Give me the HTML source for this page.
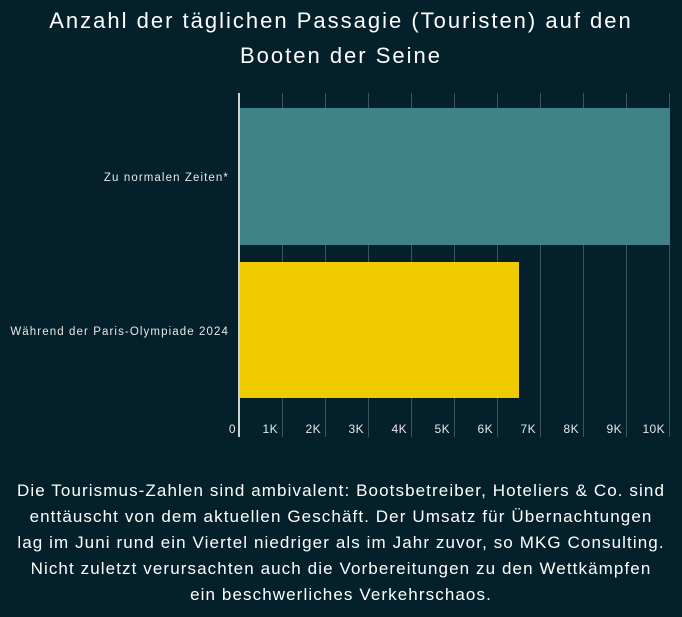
<!DOCTYPE html>
<html><head><meta charset="utf-8"><style>
body{margin:0;width:682px;height:617px;background:#03202b;overflow:hidden;font-family:"Liberation Sans",sans-serif;color:#fff}
.t{position:absolute;left:0;width:682px;text-align:center;font-size:22px;letter-spacing:2px;line-height:35px;top:3px;white-space:nowrap}
.p{position:absolute;left:0;width:682px;text-align:center;font-size:17px;letter-spacing:1.1px;line-height:26px;top:478px;white-space:nowrap}
</style></head><body>
<div class="t">Anzahl der täglichen Passagie (Touristen) auf den<br>Booten der Seine</div>
<svg width="682" height="617" style="position:absolute;left:0;top:0">
<g stroke="#3a5560" stroke-width="1">
<line x1="282.5" y1="93" x2="282.5" y2="437"/><line x1="325.5" y1="93" x2="325.5" y2="437"/>
<line x1="368.5" y1="93" x2="368.5" y2="437"/><line x1="411.5" y1="93" x2="411.5" y2="437"/>
<line x1="454.5" y1="93" x2="454.5" y2="437"/><line x1="497.5" y1="93" x2="497.5" y2="437"/>
<line x1="540.5" y1="93" x2="540.5" y2="437"/><line x1="583.5" y1="93" x2="583.5" y2="437"/>
<line x1="626.5" y1="93" x2="626.5" y2="437"/><line x1="669.5" y1="93" x2="669.5" y2="437"/>
</g>
<rect x="240" y="108" width="430" height="137" fill="#3f8287"/>
<rect x="240" y="262" width="279" height="136" fill="#f0cb00"/>
<line x1="239" y1="93" x2="239" y2="437" stroke="#fff" stroke-width="1.6"/>
<g fill="#e8e8e8" font-size="12" text-anchor="end" letter-spacing="0.4">
<text x="236" y="433">0</text><text x="278" y="433">1K</text><text x="321" y="433">2K</text>
<text x="364" y="433">3K</text><text x="407" y="433">4K</text><text x="450" y="433">5K</text>
<text x="493" y="433">6K</text><text x="536" y="433">7K</text><text x="579" y="433">8K</text>
<text x="622" y="433">9K</text><text x="665" y="433">10K</text>
</g>
<g fill="#e8e8e8" font-size="11.5" text-anchor="end" letter-spacing="1.1">
<text x="229" y="181">Zu normalen Zeiten*</text>
<text x="229" y="335">Während der Paris-Olympiade 2024</text>
</g>
</svg>
<div class="p">Die Tourismus-Zahlen sind ambivalent: Bootsbetreiber, Hoteliers &amp; Co. sind<br>enttäuscht von dem aktuellen Geschäft. Der Umsatz für Übernachtungen<br>lag im Juni rund ein Viertel niedriger als im Jahr zuvor, so MKG Consulting.<br>Nicht zuletzt verursachten auch die Vorbereitungen zu den Wettkämpfen<br>ein beschwerliches Verkehrschaos.</div>
</body></html>
